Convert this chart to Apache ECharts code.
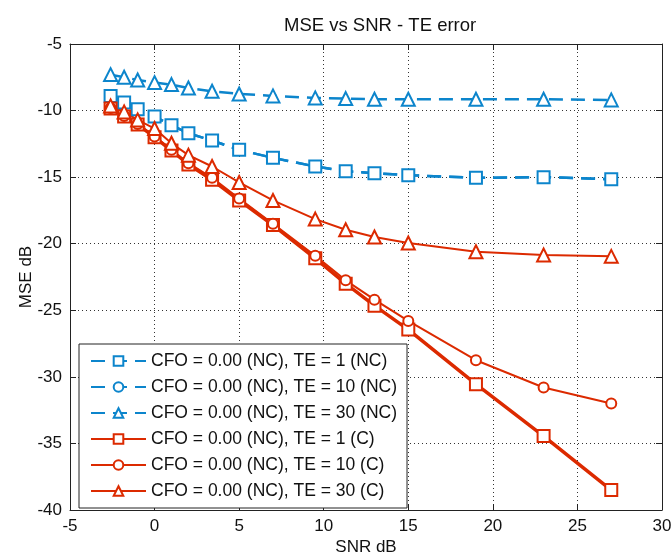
<!DOCTYPE html>
<html>
<head>
<meta charset="utf-8">
<script src="https://cdn.jsdelivr.net/npm/echarts@6/dist/echarts.min.js"></script>
<style>
  html, body { margin: 0; padding: 0; background: #fff; }
  #chart { width: 672px; height: 555px; }
</style>
</head>
<body>
<div id="chart"></div>
<script>
// SNR points (dB), shared by all curves
var snr = [-2.6, -1.8, -1, 0, 1, 2, 3.4, 5, 7, 9.5, 11.3, 13, 15, 19, 23, 27];

// MSE (dB), non-coherent
var mseTe1NC  = [-8.9, -9.4, -9.9, -10.45, -11.1, -11.7, -12.25, -12.95, -13.55, -14.2, -14.55, -14.7, -14.85, -15.05, -15.0, -15.15];
var mseTe10NC = [-8.9, -9.4, -9.9, -10.45, -11.1, -11.7, -12.25, -12.95, -13.55, -14.2, -14.55, -14.7, -14.85, -15.05, -15.0, -15.15];
var mseTe30NC = [-7.3, -7.5, -7.7, -7.9, -8.05, -8.3, -8.55, -8.75, -8.9, -9.05, -9.1, -9.15, -9.15, -9.15, -9.15, -9.2];

// MSE (dB), coherent
var mseTe1C  = [-9.85, -10.45, -11.05, -12.0, -13.0, -14.05, -15.2, -16.75, -18.6, -21.1, -23.0, -24.65, -26.45, -30.55, -34.45, -38.5];
var mseTe10C = [-9.8, -10.4, -11.0, -11.95, -12.95, -13.95, -15.05, -16.6, -18.5, -20.9, -22.75, -24.2, -25.8, -28.75, -30.8, -32.0];
var mseTe30C = [-9.65, -10.1, -10.7, -11.35, -12.45, -13.35, -14.2, -15.4, -16.75, -18.15, -18.95, -19.5, -19.95, -20.6, -20.85, -20.95];

var names = [
  'CFO = 0.00 (NC), TE = 1 (NC)',
  'CFO = 0.00 (NC), TE = 10 (NC)',
  'CFO = 0.00 (NC), TE = 30 (NC)',
  'CFO = 0.00 (NC), TE = 1 (C)',
  'CFO = 0.00 (NC), TE = 10 (C)',
  'CFO = 0.00 (NC), TE = 30 (C)'
];

var blue = '#0c85cc';
var red = '#dc2a00';
var font = 'Liberation Sans, Arial, sans-serif';

function pairs(ys) {
  return snr.map(function (x, i) { return [x, ys[i]]; });
}

// one line series
function mk(name, ys, color, symbol, size, dashed, width, z) {
  return {
    name: name,
    type: 'line',
    data: pairs(ys),
    symbol: symbol,
    symbolSize: size,
    showSymbol: true,
    z: z,
    animation: false,
    lineStyle: { color: color, width: width, type: dashed ? [14, 8] : 'solid' },
    itemStyle: { color: '#fff', borderColor: color, borderWidth: 2 }
  };
}

var axisCommon = {
  type: 'value',
  axisLine: { show: true, onZero: false, lineStyle: { color: '#222', width: 1 } },
  axisTick: { show: true, inside: true, length: 6, lineStyle: { color: '#222' } }
};

var chart = echarts.init(document.getElementById('chart'));
chart.setOption({
  backgroundColor: '#fff',
  textStyle: { fontFamily: font },
  title: {
    text: 'MSE vs SNR - TE error',
    left: 279,
    top: 11,
    textStyle: { fontSize: 18.5, fontWeight: 'normal', color: '#111', fontFamily: font }
  },
  grid: { left: 70, right: 10, top: 44, bottom: 45, containLabel: false, outerBoundsMode: 'none' },
  legend: {
    orient: 'vertical',
    left: 79,
    top: 344,
    selectedMode: false,
    backgroundColor: '#fff',
    borderColor: '#222',
    borderWidth: 1,
    padding: [8, 10, 8, 11],
    itemWidth: 55,
    itemHeight: 12,
    itemGap: 8,
    textStyle: { fontSize: 17.5, color: '#111', fontFamily: font },
    data: names
  },
  xAxis: [
    Object.assign({}, axisCommon, {
      min: -5, max: 30, interval: 5, position: 'bottom',
      name: 'SNR dB', nameLocation: 'middle', nameGap: 29, nameMoveOverlap: false,
      nameTextStyle: { fontSize: 17, color: '#111', fontFamily: font },
      axisLabel: { fontSize: 17, color: '#111', margin: 8, fontFamily: font },
      splitLine: { show: true, lineStyle: { color: '#333', type: [1, 3], width: 1 } }
    }),
    Object.assign({}, axisCommon, {
      min: -5, max: 30, interval: 5, position: 'top',
      axisLabel: { show: false }, splitLine: { show: false }
    })
  ],
  yAxis: [
    Object.assign({}, axisCommon, {
      min: -40, max: -5, interval: 5, position: 'left',
      name: 'MSE dB', nameLocation: 'middle', nameGap: 35, nameMoveOverlap: false,
      nameTextStyle: { fontSize: 17, color: '#111', fontFamily: font },
      axisLabel: { fontSize: 17, color: '#111', margin: 8, fontFamily: font },
      splitLine: { show: true, lineStyle: { color: '#333', type: [1, 3], width: 1 } }
    }),
    Object.assign({}, axisCommon, {
      min: -40, max: -5, interval: 5, position: 'right',
      axisLabel: { show: false }, splitLine: { show: false }
    })
  ],
  series: [
    mk(names[0], mseTe1NC, blue, 'rect', 12, true, 2.5, 3),
    mk(names[1], mseTe10NC, blue, 'circle', 8, true, 2.5, 2),
    mk(names[2], mseTe30NC, blue, 'triangle', 13, true, 2.5, 3),
    mk(names[3], mseTe1C, red, 'rect', 12, false, 3.5, 3),
    mk(names[4], mseTe10C, red, 'circle', 10, false, 2, 3),
    mk(names[5], mseTe30C, red, 'triangle', 13, false, 2, 3)
  ]
});
</script>
</body>
</html>
